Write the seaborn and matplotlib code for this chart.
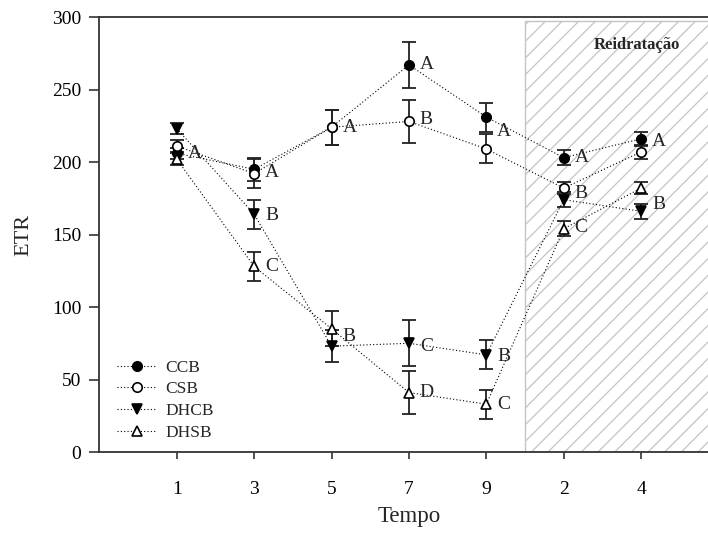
import matplotlib
matplotlib.use("Agg")
import matplotlib.pyplot as plt
import seaborn as sns
from matplotlib.patches import Rectangle

# Sampling times (first block: stress, last two: rehydration)
positions = [1, 2, 3, 4, 5, 6, 7]
tick_labels = ["1", "3", "5", "7", "9", "2", "4"]

# ETR means and standard errors per treatment
ccb = [206, 195, 224, 267, 231, 203, 216]
ccb_err = [4, 8, 12, 16, 10, 5, 5]
csb = [211, 192, 224, 228, 209, 182, 207]
csb_err = [4, 10, 12, 15, 10, 4, 5]
dhcb = [223, 164, 73, 75, 67, 174, 166]
dhcb_err = [4, 10, 11, 16, 10, 5, 5]
dhsb = [202, 128, 85, 41, 33, 154, 182]
dhsb_err = [4, 10, 12, 15, 10, 5, 4]

# Significance letters: x position, y level, letter
sig_pos = [1, 2, 2, 2, 3, 3, 4, 4, 4, 4, 5, 5, 5, 6, 6, 6, 7, 7]
sig_val = [206, 193, 163, 128, 224, 80, 267, 229, 73, 41, 221, 66, 33, 203, 178, 155, 214, 171]
sig_txt = ["A", "A", "B", "C", "A", "B", "A", "B", "C", "D", "A", "B", "C", "A", "B", "C", "A", "B"]

sns.set_style("ticks")
plt.rcParams["font.family"] = ["Liberation Serif", "DejaVu Serif"]
plt.rcParams["hatch.color"] = "#c4c4c4"
plt.rcParams["hatch.linewidth"] = 0.9

fig = plt.figure(figsize=(7.08, 5.35), dpi=100)
ax = fig.add_axes([0.1403, 0.1551, 0.8746, 0.8131])

# Rehydration period
ax.add_patch(Rectangle((5.5, 0), 3, 297, facecolor="white", edgecolor="#c4c4c4",
                       hatch="//", lw=1.0, zorder=0))
ax.text(6.95, 281, "Reidratação", ha="center", va="center", fontsize=12,
        fontweight="bold", zorder=5)

series = [
    ("CCB", ccb, ccb_err, "o", "black"),
    ("CSB", csb, csb_err, "o", "white"),
    ("DHCB", dhcb, dhcb_err, "v", "black"),
    ("DHSB", dhsb, dhsb_err, "^", "white"),
]

handles = []
for name, vals, err, mk, fc in series:
    ax.errorbar(positions, vals, yerr=err, fmt="none", ecolor="#222222",
                elinewidth=1.3, capsize=5, capthick=1.3, zorder=2)
    sns.lineplot(x=positions, y=vals, ax=ax, color="black", lw=0.8,
                 linestyle=(0, (1, 2)), marker=mk, markersize=6.8,
                 markerfacecolor=fc, markeredgecolor="black",
                 markeredgewidth=1.2, errorbar=None, label=name, zorder=3)
    handles.append(ax.lines[-1])

for x, y, t in zip(sig_pos, sig_val, sig_txt):
    ax.text(x + 0.14, y, t, ha="left", va="center", fontsize=14, zorder=5)

ax.legend(handles=handles, labels=[s[0] for s in series], loc="lower left",
          bbox_to_anchor=(0.01, 0.0), frameon=False, fontsize=12.5,
          handlelength=2.3, handletextpad=0.5, labelspacing=0.32,
          borderaxespad=0.25)

ax.set_xlim(0, 8)
ax.set_ylim(0, 300)
ax.set_xticks(positions, tick_labels)
ax.set_yticks(range(0, 301, 50))
ax.tick_params(axis="x", direction="out", length=5, width=1.2, pad=16,
               labelsize=14, colors="#333333", labelcolor="black")
ax.tick_params(axis="y", direction="out", length=7, width=1.2, pad=6,
               labelsize=14, colors="#333333", labelcolor="black")
for sp in ax.spines.values():
    sp.set_color("#333333")
    sp.set_linewidth(1.3)

ax.set_ylabel("ETR", fontsize=16)
ax.set_xlabel("Tempo", fontsize=16.5)
ax.yaxis.set_label_coords(-0.107, 0.5)
ax.xaxis.set_label_coords(0.5, -0.124)

fig.savefig("out.png", dpi=100)
